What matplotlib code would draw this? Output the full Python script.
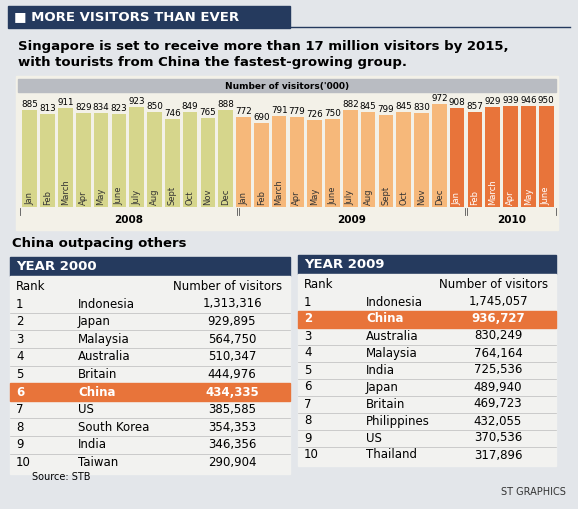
import numpy as np
import matplotlib.pyplot as plt
from matplotlib.patches import Rectangle

months = ["Jan", "Feb", "March", "Apr", "May", "June", "July", "Aug", "Sept", "Oct", "Nov", "Dec"]
v2008 = [885, 813, 911, 829, 834, 823, 923, 850, 746, 849, 765, 888]
v2009 = [772, 690, 791, 779, 726, 750, 882, 845, 799, 845, 830, 972]
v2010 = [908, 857, 929, 939, 946, 950]

t2000_country = ["Indonesia", "Japan", "Malaysia", "Australia", "Britain", "China", "US", "South Korea", "India", "Taiwan"]
t2000_visitors = ["1,313,316", "929,895", "564,750", "510,347", "444,976", "434,335", "385,585", "354,353", "346,356", "290,904"]
t2009_country = ["Indonesia", "China", "Australia", "Malaysia", "India", "Japan", "Britain", "Philippines", "US", "Thailand"]
t2009_visitors = ["1,745,057", "936,727", "830,249", "764,164", "725,536", "489,940", "469,723", "432,055", "370,536", "317,896"]

NAVY = "#253a5e"
ORANGE = "#e8743a"
BG = "#e3e6ea"

fig = plt.figure(figsize=(5.78, 5.09), dpi=100)
fig.patch.set_facecolor(BG)
bg = fig.add_axes([0, 0, 1, 1])
bg.set_xlim(0, 578)
bg.set_ylim(509, 0)
bg.axis("off")

# header
bg.add_patch(Rectangle((8, 6), 282, 22, color=NAVY))
bg.plot([290, 570], [27, 27], color=NAVY, lw=1)
bg.text(14, 17, "\u25a0 MORE VISITORS THAN EVER", color="white", fontsize=9.5, fontweight="bold", va="center")
bg.text(18, 46, "Singapore is set to receive more than 17 million visitors by 2015,", fontsize=9.5, fontweight="bold", va="center")
bg.text(18, 62, "with tourists from China the fastest-growing group.", fontsize=9.5, fontweight="bold", va="center")

# chart panel
bg.add_patch(Rectangle((16, 76), 542, 154, color="#f3f1e8"))
bg.add_patch(Rectangle((18, 79), 538, 13, color="#b9bcc2"))
bg.text(287, 86, "Number of visitors('000)", fontsize=6.5, fontweight="bold", ha="center", va="center")

ax = fig.add_axes([20 / 578, 1 - 207 / 509, 536 / 578, 110 / 509])
ax.set_facecolor("none")
vals = v2008 + v2009 + v2010
labels = months + months + months[:6]
cols = ["#d6d68c"] * 12 + ["#f6b87a"] * 12 + [ORANGE] * 6
x = np.arange(len(vals))
base = -600
ax.bar(x, np.array(vals) - base, bottom=base, width=0.82, color=cols)
for xi, v, lab in zip(x, vals, labels):
    ax.text(xi, v + 15, str(v), ha="center", va="bottom", fontsize=6.3)
    ax.text(xi, base + 30, lab, rotation=90, ha="center", va="bottom", fontsize=6,
            color="white" if xi >= 24 else "#333333")
ax.set_xlim(-0.55, len(vals) - 0.45)
ax.set_ylim(base, 1080)
ax.axis("off")

for xs, xe, yr in [(20, 237, "2008"), (239, 465, "2009"), (467, 556, "2010")]:
    bg.plot([xs, xs], [208, 215], color="#555", lw=0.6)
    bg.plot([xe, xe], [208, 215], color="#555", lw=0.6)
    bg.text((xs + xe) / 2, 220, yr, ha="center", va="center", fontsize=7.5, fontweight="bold")

bg.text(12, 244, "China outpacing others", fontsize=9.5, fontweight="bold", va="center")


def table(x0, x1, ytop, title, countries, visitors, hl, row_h):
    bg.add_patch(Rectangle((x0, ytop), x1 - x0, 19, color=NAVY))
    bg.text(x0 + 6, ytop + 10, title, color="white", fontsize=9.5, fontweight="bold", va="center")
    bg.add_patch(Rectangle((x0, ytop + 19), x1 - x0, 10 * row_h + 22, color="#f2f2f0"))
    yh = ytop + 30
    bg.text(x0 + 6, yh, "Rank", fontsize=8.5, va="center")
    bg.text(x1 - 8, yh, "Number of visitors", fontsize=8.5, va="center", ha="right")
    for i, (c, v) in enumerate(zip(countries, visitors)):
        y = yh + 17 + i * row_h
        hi = i == hl
        if hi:
            bg.add_patch(Rectangle((x0, y - row_h / 2), x1 - x0, row_h, color=ORANGE))
        kw = dict(fontsize=8.5, va="center", color="white" if hi else "black",
                  fontweight="bold" if hi else "normal")
        bg.text(x0 + 6, y, str(i + 1), **kw)
        bg.text(x0 + 68, y, c, **kw)
        bg.text(x1 - 58, y, v, ha="center", **kw)
        if not hi and i < 9 and i + 1 != hl:
            bg.plot([x0, x1], [y + row_h / 2, y + row_h / 2], color="#bbb", lw=0.5)


table(10, 290, 257, "YEAR 2000", t2000_country, t2000_visitors, 5, 17.6)
table(298, 556, 255, "YEAR 2009", t2009_country, t2009_visitors, 1, 17.0)

bg.text(32, 477, "Source: STB", fontsize=7, va="center")
bg.text(566, 492, "ST GRAPHICS", fontsize=7, va="center", ha="right", color="#333")

fig.savefig("out.png", dpi=100, facecolor=BG)
